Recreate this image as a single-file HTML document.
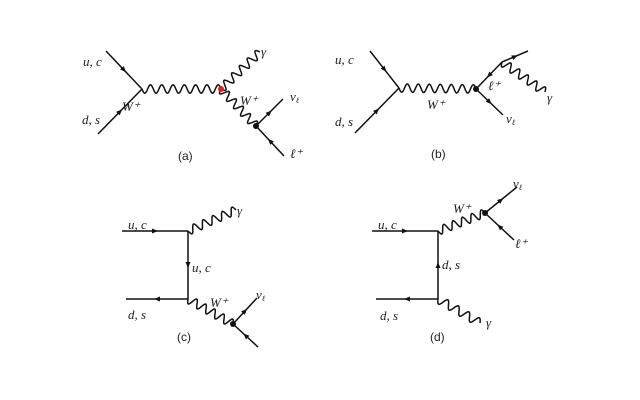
<!DOCTYPE html>
<html><head><meta charset="utf-8"><style>
html,body{margin:0;padding:0;background:#fff;width:640px;height:400px;overflow:hidden}
svg text{font-family:"Liberation Serif",serif;font-style:italic;font-size:13px;fill:#222}
svg text.c{font-family:"Liberation Sans",sans-serif;font-style:normal;font-size:12px}
</style></head><body>
<svg id="s" width="640" height="400" viewBox="0 0 640 400" xmlns="http://www.w3.org/2000/svg">
<g stroke="#111" stroke-width="1.5" fill="none" id="g"></g>
<g id="t">
<text x="83" y="66">u, c</text><text x="82" y="124">d, s</text>
<text x="122" y="111">W⁺</text><text x="240" y="105">W⁺</text>
<text x="261" y="56">γ</text><text x="290" y="101">ν<tspan font-size="8" dy="2">ℓ</tspan></text>
<text x="290" y="158">ℓ⁺</text><text class="c" x="178" y="160">(a)</text>

<text x="335" y="64">u, c</text><text x="335" y="126">d, s</text>
<text x="427" y="109">W⁺</text><text x="488" y="90">ℓ⁺</text>
<text x="547" y="102">γ</text><text x="506" y="123">ν<tspan font-size="8" dy="2">ℓ</tspan></text>
<text class="c" x="431" y="158">(b)</text>

<text x="128" y="229">u, c</text><text x="192" y="272">u, c</text>
<text x="128" y="319">d, s</text><text x="210" y="307">W⁺</text>
<text x="237" y="215">γ</text><text x="256" y="299">ν<tspan font-size="8" dy="2">ℓ</tspan></text>
<text class="c" x="177" y="341">(c)</text>

<text x="378" y="229">u, c</text><text x="442" y="269">d, s</text>
<text x="380" y="320">d, s</text><text x="453" y="213">W⁺</text>
<text x="513" y="188">ν<tspan font-size="8" dy="2">ℓ</tspan></text><text x="515" y="248">ℓ⁺</text>
<text x="486" y="327">γ</text><text class="c" x="430" y="341">(d)</text>
</g>
</svg>
<script>
var g=document.getElementById('g'),NS="http://www.w3.org/2000/svg";
function el(n,a){var e=document.createElementNS(NS,n);for(var k in a)e.setAttribute(k,a[k]);g.appendChild(e);return e;}
function line(x1,y1,x2,y2,arrow){el('line',{x1:x1,y1:y1,x2:x2,y2:y2});
 if(arrow){var mx=(x1+x2)/2,my=(y1+y2)/2,dx=x2-x1,dy=y2-y1,L=Math.hypot(dx,dy);dx/=L;dy/=L;
 var d=arrow>0?1:-1,ax=dx*d,ay=dy*d;
 el('path',{d:'M'+(mx+ax*3)+','+(my+ay*3)+' L'+(mx-ax*3-ay*2.5)+','+(my-ay*3+ax*2.5)+' L'+(mx-ax*3+ay*2.5)+','+(my-ay*3-ax*2.5)+'Z',fill:'#111',stroke:'none'});}}
function wave(x1,y1,x2,y2){var dx=x2-x1,dy=y2-y1,L=Math.hypot(dx,dy),ux=dx/L,uy=dy/L,n=Math.max(2,Math.round(L/11)),p='';
 for(var i=0;i<=n*20;i++){var t=i/(n*20),s=t*L,a=4.2*Math.sin(t*n*2*Math.PI);p+=(i?'L':'M')+(x1+ux*s-uy*a).toFixed(2)+','+(y1+uy*s+ux*a).toFixed(2);}
 el('path',{d:p});}
function dot(x,y,c){el('circle',{cx:x,cy:y,r:3,fill:c||'#111',stroke:'none'});}
line(106,51,142,89,1);line(98,134,142,89,1);wave(142,89,221,89);wave(221,89,260,52);wave(221,89,256,126);
line(256,126,283,99,1);line(256,126,284,156,-1);dot(256,126);dot(221,89,'#e02020');
line(370,51,399,88,1);line(355,133,399,88,1);wave(399,88,476,89);dot(476,89);
line(476,89,502,62,-1);line(502,62,528,51,1);wave(502,62,545,92);line(476,89,503,115,1);
line(122,231,188,231,1);line(188,231,188,299,1);line(126,299,188,299,-1);
wave(188,231,236,210);wave(188,299,233,324);dot(233,324);line(233,324,257,298,1);line(233,324,258,347,-1);
line(372,231,438,231,1);line(438,231,438,299,-1);line(376,299,438,299,-1);
wave(438,231,485,213);dot(485,213);line(485,213,517,187,1);line(485,213,514,240,-1);wave(438,299,480,323);
</script>
</body></html>
